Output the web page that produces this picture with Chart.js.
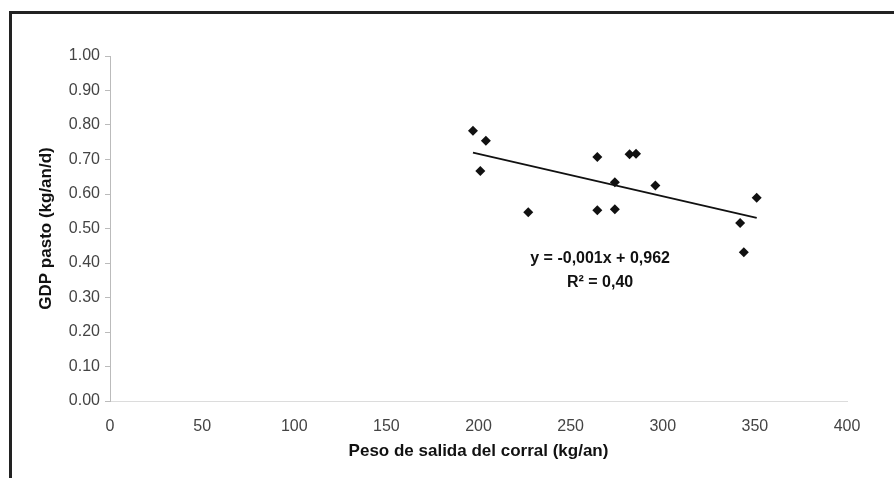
<!DOCTYPE html>
<html>
<head>
<meta charset="utf-8">
<script src="https://cdn.jsdelivr.net/npm/chart.js@4.4.1/dist/chart.umd.min.js"></script>
<style>
    html, body { margin: 0; padding: 0; background: #fff; }
    #wrap { position: relative; width: 894px; height: 478px; }
    #marco {
        position: absolute; left: 9px; top: 11px; right: 0; bottom: 0;
        border-top: 3px solid #222; border-left: 3px solid #222;
        pointer-events: none;
    }
</style>
</head>
<body>
<div id="wrap">
    <canvas id="grafico" width="894" height="478"></canvas>
    <div id="marco"></div>
</div>
<script>
// Datos: peso de salida del corral (kg/an) vs GDP pasto (kg/an/d)
const pesoSalida = [197, 204, 201, 227, 264.5, 264.5, 274, 274, 282, 285.5, 296, 342, 344, 351];
const gdpPasto = [0.783, 0.754, 0.667, 0.547, 0.707, 0.553, 0.634, 0.556, 0.715, 0.717, 0.625, 0.516, 0.431, 0.589];
const ticksX = [0, 50, 100, 150, 200, 250, 300, 350, 400];
const ticksY = [0, 0.1, 0.2, 0.3, 0.4, 0.5, 0.6, 0.7, 0.8, 0.9, 1.0];
const ecuacion = ['y = -0,001x + 0,962', 'R² = 0,40'];
const posEcuacion = [266, 0.414];

const puntos = pesoSalida.map((x, i) => ({ x: x, y: gdpPasto[i] }));

// Recta de regresión calculada a partir de los puntos
const n = puntos.length;
const mx = pesoSalida.reduce((a, b) => a + b, 0) / n;
const my = gdpPasto.reduce((a, b) => a + b, 0) / n;
let sxy = 0, sxx = 0;
pesoSalida.forEach((x, i) => { sxy += (x - mx) * (gdpPasto[i] - my); sxx += (x - mx) * (x - mx); });
const pendiente = sxy / sxx;
const corte = my - pendiente * mx;
const xMin = Math.min(...pesoSalida), xMax = Math.max(...pesoSalida);
const tendencia = [
    { x: xMin, y: corte + pendiente * xMin },
    { x: xMax, y: corte + pendiente * xMax }
];

// Texto de la ecuación en coordenadas de datos
const textoEcuacion = {
    id: 'textoEcuacion',
    afterDatasetsDraw(chart) {
        const ctx = chart.ctx;
        const px = chart.scales.x.getPixelForValue(posEcuacion[0]);
        const py = chart.scales.y.getPixelForValue(posEcuacion[1]);
        ctx.save();
        ctx.fillStyle = '#111';
        ctx.font = 'bold 16px "Liberation Sans", Arial, sans-serif';
        ctx.textAlign = 'center';
        ctx.textBaseline = 'middle';
        ecuacion.forEach((linea, i) => ctx.fillText(linea, px, py + i * 24));
        ctx.restore();
    }
};

const fuente = '"Liberation Sans", Arial, sans-serif';

new Chart(document.getElementById('grafico'), {
    type: 'scatter',
    data: {
        datasets: [{
            data: puntos,
            pointStyle: 'rectRot',
            pointRadius: 5,
            backgroundColor: '#111',
            borderColor: '#111',
            borderWidth: 0
        }, {
            type: 'line',
            data: tendencia,
            borderColor: '#111',
            borderWidth: 1.8,
            pointRadius: 0,
            fill: false
        }]
    },
    options: {
        responsive: false,
        animation: false,
        layout: { padding: { top: 56, right: 47, bottom: 0, left: 0 } },
        plugins: { legend: { display: false }, tooltip: { enabled: false } },
        scales: {
            x: {
                type: 'linear',
                min: 0, max: 400,
                afterBuildTicks: axis => { axis.ticks = ticksX.map(v => ({ value: v })); },
                afterFit: axis => { axis.height = 77; },
                grid: { drawOnChartArea: false, drawTicks: false },
                border: { color: '#dcdcdc', width: 1 },
                ticks: { color: '#444', padding: 16, font: { family: fuente, size: 16 }, maxRotation: 0 },
                title: {
                    display: true,
                    text: 'Peso de salida del corral (kg/an)',
                    color: '#111',
                    font: { family: fuente, size: 17, weight: 'bold' },
                    padding: { top: 0, bottom: 16 }
                }
            },
            y: {
                min: 0, max: 1,
                afterBuildTicks: axis => { axis.ticks = ticksY.map(v => ({ value: v })); },
                afterFit: axis => { axis.width = 110; },
                grid: { drawOnChartArea: false, drawTicks: true, tickLength: 5, color: '#bbb' },
                border: { color: '#bbb', width: 1 },
                ticks: {
                    color: '#444', padding: 5,
                    font: { family: fuente, size: 16 },
                    callback: v => v.toFixed(2)
                },
                title: {
                    display: true,
                    text: 'GDP pasto (kg/an/d)',
                    color: '#111',
                    font: { family: fuente, size: 17, weight: 'bold' },
                    padding: { top: 36, bottom: 0 }
                }
            }
        }
    },
    plugins: [textoEcuacion]
});
</script>
</body>
</html>
